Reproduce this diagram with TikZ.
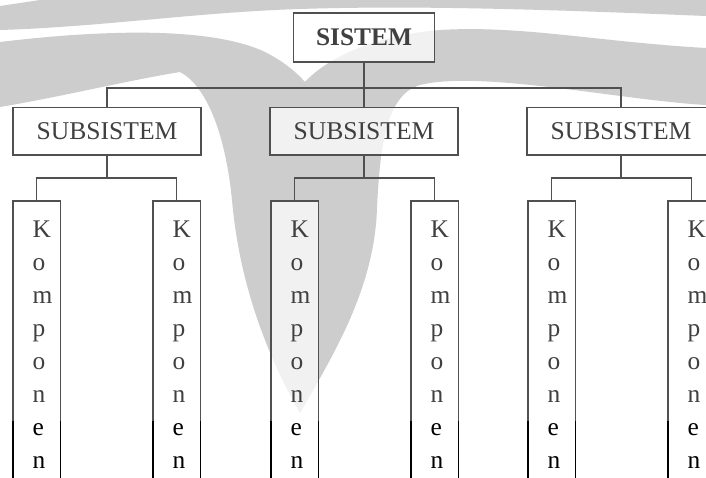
\documentclass[tikz,border=0pt]{standalone}
\usepackage{fontspec}
\setmainfont{Liberation Serif}
\definecolor{wm}{HTML}{CDCDCD}
\definecolor{ln}{HTML}{505050}
\definecolor{tx}{HTML}{404040}
\tikzset{
  box/.style={draw=ln, line width=1.4pt, fill=white, fill opacity=0.72, text opacity=1,
    inner sep=0pt, font=\fontsize{25.6}{30}\selectfont, text=tx},
  conn/.style={draw=ln, line width=1.4pt},
  kbox/.style={inner sep=0pt, minimum width=47pt, minimum height=300pt, anchor=north west,
    fill=white, fill opacity=0.72},
  kside/.style={draw=ln, line width=1.4pt},
  ksideb/.style={draw=black, line width=1.8pt},
  letter/.style={inner sep=0pt, anchor=base west, font=\fontsize{25.4}{30}\selectfont},
}
\begin{document}
\begin{tikzpicture}[x=1pt,y=-1pt]
\useasboundingbox (0,0) rectangle (706,477);
\clip (0,0) rectangle (706,477);
\fill[white] (0,0) rectangle (706,477);
% watermark
\fill[wm] (0,6) -- (0,30) .. controls (100,27) and (200,12) .. (300,9)
  .. controls (420,5) and (560,10) .. (706,16) -- (706,0) -- (40,0) -- cycle;
\fill[wm] (0,42) .. controls (100,30) and (210,26) .. (265,52)
  .. controls (285,62) and (298,74) .. (305,82)
  .. controls (330,55) and (380,35) .. (440,30)
  .. controls (520,25) and (600,42) .. (706,48)
  -- (706,105) .. controls (620,100) and (480,70) .. (420,85)
  .. controls (385,95) and (380,150) .. (377,207)
  .. controls (375,290) and (330,360) .. (300,413)
  .. controls (270,360) and (240,290) .. (232,200)
  .. controls (225,130) and (205,85) .. (180,72)
  .. controls (130,80) and (60,97) .. (0,107) -- cycle;
% nodes
\node[box, minimum width=141pt, minimum height=49pt,
  font=\bfseries\fontsize{25.4}{30}\selectfont] (sis) at (364,37.5) {SISTEM};
\node[box, minimum width=188pt, minimum height=47.5pt] (s1) at (107,131.25) {SUBSISTEM};
\node[box, minimum width=188pt, minimum height=47.5pt] (s2) at (364,131.25) {SUBSISTEM};
\node[box, minimum width=188pt, minimum height=47.5pt] (s3) at (621,131.25) {SUBSISTEM};
\coordinate (busy) at (0,88);
\coordinate (bry) at (0,178);
\coordinate (cut) at (0,421);
\foreach \n/\l in {k1/13, k2/153, k3/271, k4/411, k5/528, k6/668} {
  \node[kbox] (\n) at (\l,201) {};
  \draw[kside] (\n.south west) |- (\n.north) -| (\n.south east);
  \draw[ksideb] (\n.west |- cut) -- (\n.south west);
  \draw[ksideb] (\n.east |- cut) -- (\n.south east);
  \foreach \c/\col [count=\i] in {K/tx,o/tx,m/tx,p/tx,o/tx,n/tx,e/black,n/black} {
    \node[letter, text=\col] (\n-\i) at ({\l+19.5},{237+33*(\i-1)}) {\c};
  }
}
% connectors
\draw[conn] (sis.south) -- (s2.north);
\draw[conn] (s1.north) |- (s3.north |- busy) -- (s3.north);
\draw[conn] (s1.south) -- (s1.south |- bry);
\draw[conn] (s2.south) -- (s2.south |- bry);
\draw[conn] (s3.south) -- (s3.south |- bry);
\draw[conn] (k1.north) |- (k2.north |- bry) -- (k2.north);
\draw[conn] (k3.north) |- (k4.north |- bry) -- (k4.north);
\draw[conn] (k5.north) |- (k6.north |- bry) -- (k6.north);
\end{tikzpicture}
\end{document}
